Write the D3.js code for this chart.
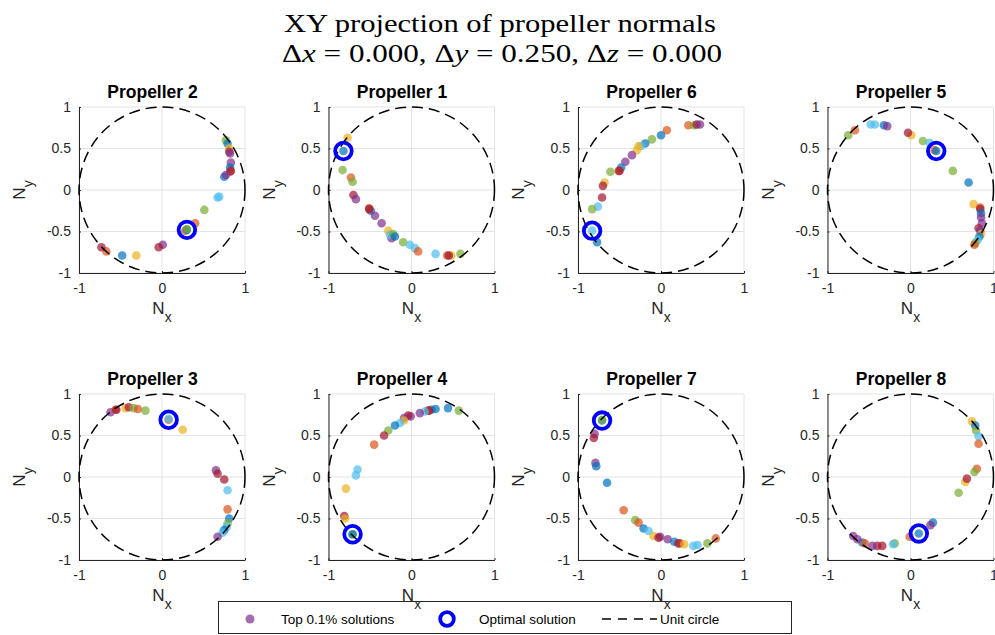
<!DOCTYPE html>
<html>
<head>
<meta charset="utf-8">
<script src="https://cdn.jsdelivr.net/npm/d3@7"></script>
<style>
  body { margin: 0; background: #fff; }
  text { font-family: "Liberation Sans", Arial, sans-serif; }
</style>
</head>
<body>
<div class="chart"></div>
<script>
var W = 995, H = 635;

var panelTitles = ['Propeller 2', 'Propeller 1', 'Propeller 6', 'Propeller 5',
                   'Propeller 3', 'Propeller 4', 'Propeller 7', 'Propeller 8'];

var xTicks = [-1, 0, 1];
var yTicks = [-1, -0.5, 0, 0.5, 1];

// [Nx, Ny, colour code] for top 0.1% solutions
var prop2 = [[0.77,0.60,'g'],[0.79,0.56,'b'],[0.81,0.50,'y'],[0.81,0.46,'r'],[0.82,0.44,'p'],[0.83,0.33,'p'],
  [0.82,0.27,'b'],[0.82,0.22,'o'],[0.83,0.23,'r'],[0.75,0.16,'b'],[0.77,0.18,'p'],[0.69,-0.08,'l'],[0.67,-0.09,'l'],
  [0.51,-0.24,'g'],[0.40,-0.40,'o'],[0.28,-0.49,'o'],[0.30,-0.48,'b'],[0.30,-0.47,'g'],[0.01,-0.66,'p'],
  [-0.04,-0.69,'r'],[-0.31,-0.79,'y'],[-0.48,-0.79,'b'],[-0.67,-0.74,'o'],[-0.73,-0.69,'r']];
var prop1 = [[-0.77,0.63,'y'],[-0.82,0.47,'b'],[-0.83,0.24,'g'],[-0.73,0.15,'o'],[-0.71,0.10,'g'],[-0.70,-0.06,'r'],
  [-0.67,-0.11,'p'],[-0.49,-0.25,'b'],[-0.51,-0.22,'o'],[-0.51,-0.23,'r'],[-0.44,-0.31,'p'],[-0.36,-0.40,'p'],
  [-0.28,-0.49,'y'],[-0.24,-0.58,'p'],[-0.26,-0.54,'l'],[-0.22,-0.53,'g'],[-0.20,-0.56,'b'],[-0.10,-0.63,'g'],
  [-0.02,-0.66,'l'],[0.04,-0.70,'l'],[0.08,-0.74,'o'],[0.29,-0.77,'l'],[0.48,-0.79,'y'],[0.43,-0.79,'o'],
  [0.45,-0.79,'r'],[0.59,-0.77,'g']];
var prop6 = [[0.33,0.78,'o'],[0.40,0.78,'g'],[0.43,0.79,'r'],[0.47,0.79,'p'],[0.07,0.72,'o'],[0.00,0.66,'b'],
  [-0.11,0.61,'g'],[-0.19,0.56,'b'],[-0.24,0.53,'l'],[-0.27,0.53,'y'],[-0.29,0.48,'y'],[-0.35,0.42,'p'],
  [-0.43,0.34,'p'],[-0.48,0.27,'b'],[-0.51,0.23,'o'],[-0.50,0.23,'r'],[-0.61,0.22,'g'],[-0.68,0.09,'y'],
  [-0.70,0.05,'r'],[-0.71,-0.09,'r'],[-0.76,-0.20,'l'],[-0.83,-0.23,'g'],[-0.83,-0.49,'l'],[-0.77,-0.63,'b']];
var prop5 = [[-0.75,0.66,'g'],[-0.67,0.72,'o'],[-0.48,0.79,'l'],[-0.43,0.79,'l'],[-0.32,0.78,'b'],[-0.28,0.77,'p'],
  [0.01,0.66,'y'],[-0.03,0.69,'r'],[0.15,0.59,'g'],[0.23,0.57,'l'],[0.29,0.48,'o'],[0.31,0.47,'b'],[0.51,0.23,'g'],
  [0.70,0.09,'b'],[0.76,-0.17,'y'],[0.84,-0.21,'o'],[0.84,-0.23,'r'],[0.85,-0.28,'b'],[0.85,-0.33,'p'],
  [0.86,-0.40,'p'],[0.82,-0.46,'r'],[0.84,-0.49,'p'],[0.85,-0.53,'y'],[0.83,-0.56,'b'],[0.81,-0.60,'l'],
  [0.78,-0.64,'g'],[0.77,-0.66,'o']];
var prop3 = [[-0.62,0.78,'p'],[-0.56,0.81,'o'],[-0.55,0.81,'r'],[-0.44,0.83,'y'],[-0.40,0.84,'r'],[-0.34,0.83,'g'],
  [-0.29,0.82,'o'],[-0.20,0.80,'g'],[0.08,0.69,'o'],[0.08,0.70,'l'],[0.25,0.57,'y'],[0.65,0.08,'p'],[0.67,0.04,'r'],
  [0.75,-0.03,'r'],[0.79,-0.16,'l'],[0.79,-0.39,'o'],[0.81,-0.50,'b'],[0.79,-0.56,'g'],[0.78,-0.60,'l'],
  [0.75,-0.64,'b'],[0.73,-0.67,'l'],[0.67,-0.72,'p']];
var prop4 = [[0.57,0.80,'g'],[0.44,0.83,'b'],[0.29,0.82,'b'],[0.24,0.81,'b'],[0.20,0.80,'o'],[0.21,0.80,'r'],
  [0.16,0.79,'l'],[0.10,0.77,'p'],[-0.01,0.73,'p'],[-0.04,0.74,'r'],[-0.09,0.71,'p'],[-0.09,0.68,'y'],
  [-0.14,0.65,'l'],[-0.20,0.62,'b'],[-0.28,0.56,'g'],[-0.33,0.50,'r'],[-0.45,0.39,'o'],[-0.65,0.09,'l'],
  [-0.67,0.02,'l'],[-0.79,-0.14,'y'],[-0.81,-0.47,'r'],[-0.80,-0.50,'y'],[-0.71,-0.69,'g'],[-0.71,-0.69,'b']];
var prop7 = [[-0.71,0.68,'b'],[-0.71,0.69,'g'],[-0.80,0.52,'p'],[-0.81,0.47,'r'],[-0.79,0.17,'p'],[-0.78,0.13,'b'],
  [-0.65,-0.07,'b'],[-0.45,-0.40,'o'],[-0.31,-0.52,'g'],[-0.27,-0.55,'o'],[-0.21,-0.62,'b'],[-0.15,-0.65,'l'],
  [-0.09,-0.71,'y'],[-0.01,-0.72,'p'],[-0.03,-0.73,'r'],[0.08,-0.75,'p'],[0.16,-0.78,'b'],[0.23,-0.80,'o'],
  [0.21,-0.80,'r'],[0.28,-0.81,'y'],[0.39,-0.83,'l'],[0.44,-0.82,'l'],[0.56,-0.80,'g'],[0.66,-0.74,'o']];
var prop8 = [[0.74,0.67,'y'],[0.78,0.62,'b'],[0.79,0.56,'g'],[0.82,0.49,'l'],[0.82,0.40,'o'],[0.80,0.10,'o'],
  [0.77,0.06,'g'],[0.66,-0.06,'y'],[0.68,-0.02,'r'],[0.58,-0.19,'g'],[0.27,-0.55,'b'],[0.24,-0.58,'p'],
  [-0.01,-0.72,'o'],[0.10,-0.68,'b'],[-0.19,-0.80,'g'],[-0.21,-0.81,'l'],[-0.34,-0.83,'r'],[-0.40,-0.83,'r'],
  [-0.46,-0.83,'p'],[-0.58,-0.79,'b'],[-0.55,-0.80,'o'],[-0.64,-0.75,'p'],[-0.69,-0.71,'p']];

var panelPoints = [prop2, prop1, prop6, prop5, prop3, prop4, prop7, prop8];

// optimal solution per panel
var optimal = [[0.30,-0.48], [-0.82,0.47], [-0.83,-0.49], [0.31,0.47],
               [0.08,0.69], [-0.71,-0.69], [-0.71,0.68], [0.10,-0.68]];

var colorMap = {b:'#0072BD', o:'#D95319', y:'#EDB120', p:'#7E2F8E', g:'#77AC30', l:'#4DBEEE', r:'#A2142F'};

var axisColor = '#262626';

var svg = d3.select('.chart')
  .append('svg')
    .attr('width', W)
    .attr('height', H);

// main title
var title = svg.append('g').attr('fill', '#000');
title.append('text')
  .attr('x', 500).attr('y', 32)
  .attr('text-anchor', 'middle')
  .style('font-family', '"Liberation Serif", serif')
  .style('font-size', '25px')
  .attr('textLength', 432).attr('lengthAdjust', 'spacingAndGlyphs')
  .text('XY projection of propeller normals');

var sub = title.append('text')
  .attr('x', 502).attr('y', 62)
  .attr('text-anchor', 'middle')
  .style('font-family', '"Liberation Serif", serif')
  .style('font-size', '25px')
  .attr('textLength', 440).attr('lengthAdjust', 'spacingAndGlyphs');
[['Δ', false], ['x', true], [' = 0.000, Δ', false], ['y', true], [' = 0.250, Δ', false], ['z', true], [' = 0.000', false]]
  .forEach(function(p) {
    sub.append('tspan').style('font-style', p[1] ? 'italic' : 'normal').text(p[0]);
  });

var lefts = [79, 328.5, 578, 827.5];
var tops = [107, 394];
var size = 166;

panelTitles.forEach(function(name, i) {
  var col = i % 4, row = Math.floor(i / 4);
  var g = svg.append('g')
    .attr('transform', `translate(${lefts[col]}, ${tops[row]})`);

  var x = d3.scaleLinear().domain([-1, 1]).range([0, size]);
  var y = d3.scaleLinear().domain([-1, 1]).range([size, 0]);

  // grid
  g.append('g').selectAll('line').data(xTicks).enter().append('line')
    .attr('x1', d => x(d)).attr('x2', d => x(d))
    .attr('y1', 0).attr('y2', size)
    .attr('stroke', '#e3e3e3').attr('stroke-width', 1);
  g.append('g').selectAll('line').data(yTicks).enter().append('line')
    .attr('y1', d => y(d)).attr('y2', d => y(d))
    .attr('x1', 0).attr('x2', size)
    .attr('stroke', '#e3e3e3').attr('stroke-width', 1);

  // axes
  var yAxis = d3.axisLeft(y).tickValues(yTicks).tickSizeInner(-2).tickSizeOuter(0)
    .tickPadding(8).tickFormat(d => String(d));
  var xAxis = d3.axisBottom(x).tickValues(xTicks).tickSizeInner(-2).tickSizeOuter(0)
    .tickPadding(10).tickFormat(d => String(d));

  var ya = g.append('g').call(yAxis);
  var xa = g.append('g').attr('transform', `translate(0, ${size})`).call(xAxis);
  [ya, xa].forEach(function(a) {
    a.select('.domain').attr('stroke', axisColor).attr('stroke-width', 1);
    a.selectAll('.tick line').attr('stroke', axisColor);
    a.selectAll('.tick text')
      .attr('fill', axisColor)
      .style('font-family', '"Liberation Sans", Arial, sans-serif')
      .style('font-size', '14px');
  });

  // points
  g.append('g').selectAll('circle')
    .data(panelPoints[i])
    .enter().append('circle')
      .attr('cx', d => x(d[0]))
      .attr('cy', d => y(d[1]))
      .attr('r', 4.3)
      .attr('fill', d => colorMap[d[2]])
      .attr('fill-opacity', 0.7);

  // unit circle
  g.append('circle')
    .attr('cx', x(0)).attr('cy', y(0))
    .attr('r', x(1) - x(0))
    .attr('fill', 'none')
    .attr('stroke', '#000')
    .attr('stroke-width', 1.5)
    .attr('stroke-dasharray', '11,6');

  // optimal
  g.append('circle')
    .attr('cx', x(optimal[i][0])).attr('cy', y(optimal[i][1]))
    .attr('r', 8.3)
    .attr('fill', 'none')
    .attr('stroke', '#0000FF')
    .attr('stroke-width', 3.8);

  // panel title (sits a little left of the axes centre)
  g.append('text')
    .attr('x', size / 2 - 9.5).attr('y', -9)
    .attr('text-anchor', 'middle')
    .style('font-weight', 'bold')
    .style('font-size', '17.5px')
    .attr('fill', '#000')
    .text(name);

  // x label
  var xl = g.append('text')
    .attr('x', size / 2).attr('y', size + 41)
    .attr('text-anchor', 'middle')
    .attr('fill', axisColor)
    .style('font-size', '17px');
  xl.append('tspan').text('N');
  xl.append('tspan').attr('dy', 8).style('font-size', '14px').text('x');

  // y label
  var yl = g.append('text')
    .attr('transform', `translate(-54, ${size / 2}) rotate(-90)`)
    .attr('text-anchor', 'middle')
    .attr('fill', axisColor)
    .style('font-size', '17px');
  yl.append('tspan').text('N');
  yl.append('tspan').attr('dy', 8).style('font-size', '14px').text('y');
});

// legend
var leg = svg.append('g');
leg.append('rect')
  .attr('x', 218.5).attr('y', 601.5)
  .attr('width', 573).attr('height', 32)
  .attr('fill', 'none')
  .attr('stroke', axisColor)
  .attr('stroke-width', 1);

leg.append('circle')
  .attr('cx', 250).attr('cy', 619).attr('r', 4.5)
  .attr('fill', colorMap.p).attr('fill-opacity', 0.7);
leg.append('text').attr('x', 281).attr('y', 624)
  .style('font-size', '13.5px').attr('fill', '#000').text('Top 0.1% solutions');

leg.append('circle')
  .attr('cx', 447).attr('cy', 619).attr('r', 6.8)
  .attr('fill', 'none').attr('stroke', '#0000FF').attr('stroke-width', 3.8);
leg.append('text').attr('x', 479).attr('y', 624)
  .style('font-size', '13.5px').attr('fill', '#000').text('Optimal solution');

leg.append('line')
  .attr('x1', 602).attr('x2', 657).attr('y1', 619).attr('y2', 619)
  .attr('stroke', '#000').attr('stroke-width', 1.5)
  .attr('stroke-dasharray', '9,7');
leg.append('text').attr('x', 660).attr('y', 624)
  .style('font-size', '13.5px').attr('fill', '#000').text('Unit circle');
</script>
</body>
</html>
